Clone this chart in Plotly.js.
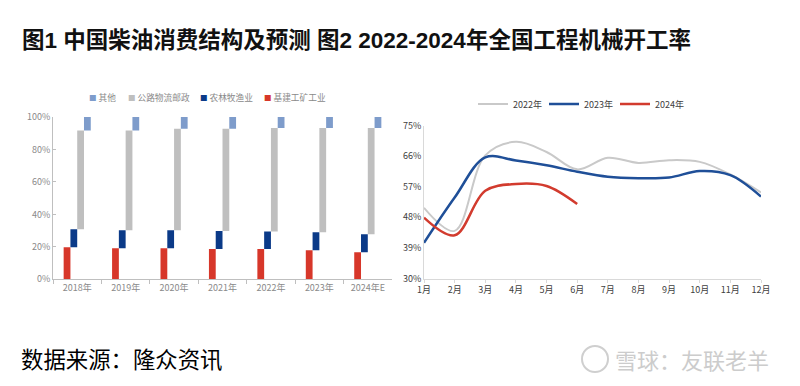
<!DOCTYPE html>
<html>
<head>
<meta charset="utf-8">
<script src="https://cdn.plot.ly/plotly-3.0.1.min.js"></script>
<style>
html,body{margin:0;padding:0;background:#fff;}
#chart{width:800px;height:386px;}
</style>
</head>
<body>
<div id="chart"></div>
<script>
// ---- Figure 1: diesel consumption structure (shares, %) ----
const years = ['2018年','2019年','2020年','2021年','2022年','2023年','2024年E'];
const industry  = [19.8, 19.1, 19.1, 18.7, 18.7, 17.9, 16.7];   // 基建工矿工业
const agri      = [11.1, 11.1, 11.1, 11.1, 10.7, 11.1, 11.1];   // 农林牧渔业
const logistics = [60.8, 61.5, 62.6, 63.0, 63.8, 64.2, 65.4];   // 公路物流邮政
const other     = [8.3, 8.3, 7.2, 7.2, 6.8, 6.8, 6.8];          // 其他
const seriesNames = ['其他', '公路物流邮政', '农林牧渔业', '基建工矿工业'];

// ---- Figure 2: construction machinery operating rate (%) ----
const months = ['1月','2月','3月','4月','5月','6月','7月','8月','9月','10月','11月','12月'];
const rate2022 = [50.8, 44.0, 66.2, 70.2, 67.2, 62.1, 65.5, 64.0, 64.8, 64.3, 60.6, 55.3];
const rate2023 = [40.5, 53.8, 65.6, 64.7, 63.3, 61.4, 59.9, 59.5, 59.7, 61.6, 60.4, 54.1];
const rate2024 = [47.9, 42.7, 55.8, 57.8, 57.2, 51.9];

const base1 = industry.map(() => 0);
const base2 = industry.slice();
const base3 = industry.map((v, i) => v + agri[i]);
const base4 = base3.map((v, i) => v + logistics[i]);

const colInd = '#d7372a', colAgri = '#0b3a88', colLog = '#bfbfbf', colOth = '#7e9ccb';

const traces = [
  {type:'bar', name:seriesNames[3], x:years, y:industry, base:base1, marker:{color:colInd}, xaxis:'x', yaxis:'y', showlegend:false, hoverinfo:'skip'},
  {type:'bar', name:seriesNames[2], x:years, y:agri, base:base2, marker:{color:colAgri}, xaxis:'x', yaxis:'y', showlegend:false, hoverinfo:'skip'},
  {type:'bar', name:seriesNames[1], x:years, y:logistics, base:base3, marker:{color:colLog}, xaxis:'x', yaxis:'y', showlegend:false, hoverinfo:'skip'},
  {type:'bar', name:seriesNames[0], x:years, y:other, base:base4, marker:{color:colOth}, xaxis:'x', yaxis:'y', showlegend:false, hoverinfo:'skip'},
  {type:'scatter', mode:'lines', name:'2022年', x:months, y:rate2022, line:{color:'#c9c9c9', width:2, shape:'spline', smoothing:1}, xaxis:'x2', yaxis:'y2', legend:'legend2'},
  {type:'scatter', mode:'lines', name:'2023年', x:months, y:rate2023, line:{color:'#1f4f98', width:2.5, shape:'spline', smoothing:1}, xaxis:'x2', yaxis:'y2', legend:'legend2'},
  {type:'scatter', mode:'lines', name:'2024年', x:months.slice(0, rate2024.length), y:rate2024, line:{color:'#d23b2e', width:2.5, shape:'spline', smoothing:1}, xaxis:'x2', yaxis:'y2', legend:'legend2'}
];

const cjk = '"Noto Sans CJK SC", "Liberation Sans", sans-serif';
const H = 386, W = 800;
const py = p => 1 - p / H;
const px = p => p / W;

const legendCols = [colOth, colLog, colAgri, colInd];
const legendX = [87, 126, 197.5, 261.5];
const legendAnns = seriesNames.map((nm, i) => ({
  xref:'paper', yref:'paper', x: px(legendX[i]), y: py(97), xanchor:'left', yanchor:'middle', showarrow:false,
  text: '<span style="color:' + legendCols[i] + ';font-size:7.5px">■</span> ' + nm,
  font: {family: cjk, size: 8.7, color: '#8a8a8a'}
}));

const layout = {
  width: W, height: H,
  margin: {l:0, r:0, t:0, b:0},
  paper_bgcolor: '#ffffff', plot_bgcolor: 'rgba(0,0,0,0)',
  font: {family: cjk, size: 9, color: '#404040'},
  barmode: 'group', bargap: 0.44, bargroupgap: 0,
  xaxis: {
    domain: [px(53), px(392)], anchor: 'y',
    type: 'category', showline: true, linecolor: '#bfbfbf', linewidth: 1,
    ticks: 'outside', tickson: 'boundaries', ticklen: 4, tickcolor: '#bfbfbf',
    tickfont: {family: cjk, size: 9, color: '#8a8a8a'}, showgrid: false, zeroline: false, fixedrange: true
  },
  yaxis: {
    domain: [py(279.3), py(117)], anchor: 'x',
    range: [0, 100], dtick: 20, tick0: 0, ticksuffix: '%',
    showline: true, linecolor: '#bfbfbf', linewidth: 1,
    ticks: 'inside', ticklen: 3, tickcolor: '#bfbfbf',
    tickfont: {family: cjk, size: 9, color: '#8a8a8a'}, showgrid: false, zeroline: false, fixedrange: true
  },
  xaxis2: {
    domain: [px(424), px(761)], anchor: 'y2',
    type: 'category', range: [0, 11], showline: true, linecolor: '#d9d9d9', linewidth: 1,
    ticks: 'outside', ticklen: 3, tickcolor: '#d9d9d9',
    tickfont: {family: cjk, size: 9, color: '#404040'}, showgrid: false, zeroline: false, fixedrange: true
  },
  yaxis2: {
    domain: [py(278.5), py(125.5)], anchor: 'x2',
    range: [30, 75], dtick: 9, tick0: 30, ticksuffix: '%',
    showline: true, linecolor: '#d9d9d9', linewidth: 1, ticks: '',
    tickfont: {family: cjk, size: 9, color: '#404040'}, showgrid: false, zeroline: false, fixedrange: true
  },
  legend2: {
    orientation: 'h', x: px(473), y: py(104), xanchor: 'left', yanchor: 'middle',
    entrywidth: 26, entrywidthmode: 'pixels', itemwidth: 30,
    font: {family: cjk, size: 9, color: '#404040'}, bgcolor: 'rgba(0,0,0,0)', traceorder: 'normal'
  },
  annotations: [
    {xref:'paper', yref:'paper', x: px(20), y: py(40), xanchor:'left', yanchor:'middle', showarrow:false,
     text: '<b>图1 中国柴油消费结构及预测 图2 2022-2024年全国工程机械开工率</b>',
     font: {family: '"Liberation Sans", "Noto Sans CJK SC", sans-serif', size: 22.5, color: '#111111'}},
    {xref:'paper', yref:'paper', x: px(19), y: py(358), xanchor:'left', yanchor:'middle', showarrow:false,
     text: '数据来源：隆众资讯', font: {family: cjk, size: 22.4, color: '#000000'}},
    {xref:'paper', yref:'paper', x: px(613), y: py(359), xanchor:'left', yanchor:'middle', showarrow:false,
     text: '雪球：友联老羊', font: {family: cjk, size: 22, color: '#cccccc'}}
  ].concat(legendAnns),
  shapes: [
    {type:'circle', xref:'paper', yref:'paper', x0: px(582), x1: px(608), y0: py(372), y1: py(346),
     line: {color:'#cfcfcf', width: 2}}
  ]
};

Plotly.newPlot('chart', traces, layout, {displayModeBar: false, staticPlot: true});
</script>
</body>
</html>
